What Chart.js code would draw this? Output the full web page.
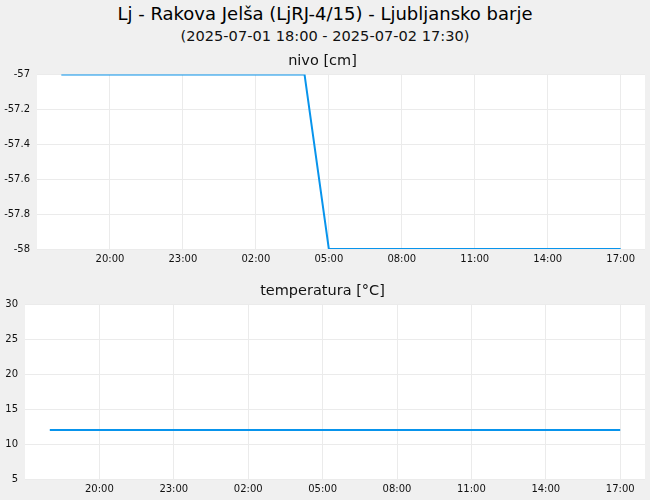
<!DOCTYPE html>
<html>
<head>
<meta charset="utf-8">
<script src="https://cdn.jsdelivr.net/npm/chart.js@4.4.0/dist/chart.umd.min.js"></script>
<style>
    body { margin: 0; background: #f0f0f0; }
    #wrap { position: relative; width: 650px; height: 500px; background: #f0f0f0; font-family: "DejaVu Sans", sans-serif; }
    #naslov { position: absolute; top: 3px; left: 0; width: 650px; text-align: center; font-size: 18px; color: #000; }
    #podnaslov { position: absolute; top: 27px; left: 0; width: 650px; text-align: center; font-size: 14.6px; color: #111; }
    .plosca { position: absolute; left: 0; width: 650px; height: 225px; }
</style>
</head>
<body>
<div id="wrap">
    <div id="naslov">Lj - Rakova Jelša (LjRJ-4/15) - Ljubljansko barje</div>
    <div id="podnaslov">(2025-07-01 18:00 - 2025-07-02 17:30)</div>
    <div class="plosca" style="top:45px"><canvas id="nivo"></canvas></div>
    <div class="plosca" style="top:275px"><canvas id="temperatura"></canvas></div>
</div>
<script>
// meritve, vsako uro
const casi = ["18:00", "19:00", "20:00", "21:00", "22:00", "23:00", "00:00", "01:00", "02:00", "03:00", "04:00", "05:00",
    "06:00", "07:00", "08:00", "09:00", "10:00", "11:00", "12:00", "13:00", "14:00", "15:00", "16:00", "17:00"];
const nivo = [-57, -57, -57, -57, -57, -57, -57, -57, -57, -57, -57, -58,
    -58, -58, -58, -58, -58, -58, -58, -58, -58, -58, -58, -58];
const temperatura = [12, 12, 12, 12, 12, 12, 12, 12, 12, 12, 12, 12,
    12, 12, 12, 12, 12, 12, 12, 12, 12, 12, 12, 12];
const oznakeCasa = ["20:00", "23:00", "02:00", "05:00", "08:00", "11:00", "14:00", "17:00"];

// ure od 2025-07-01 18:00
function ureOdZacetka(cas) {
    const [hh, mm] = cas.split(':').map(Number)
    return (hh - 18 + 24) % 24 + mm / 60
}
function casIzUr(u) {
    const h = (Math.round(u) + 18) % 24
    return String(h).padStart(2, '0') + ':00'
}

const belaPodlaga = {
    id: 'belaPodlaga',
    beforeDraw(chart) {
        const { ctx, chartArea } = chart
        ctx.save()
        ctx.fillStyle = '#ffffff'
        ctx.fillRect(chartArea.left, chartArea.top, chartArea.right - chartArea.left, chartArea.bottom - chartArea.top)
        ctx.restore()
    }
}

function narisi(id, naslov, vrednosti, yMin, yMax, yKorak, sirinaOsi, decimalke) {
    return new Chart(id, {
        type: 'line',
        data: {
            datasets: [{
                data: casi.map((c, i) => ({ x: ureOdZacetka(c), y: vrednosti[i] })),
                borderColor: '#0894ec',
                borderWidth: 2,
                pointRadius: 0,
                tension: 0,
                fill: false
            }]
        },
        options: {
            responsive: true,
            maintainAspectRatio: false,
            animation: false,
            layout: { padding: { left: 0, right: 5, bottom: 1, top: 0 } },
            plugins: {
                legend: { display: false },
                tooltip: { enabled: false },
                title: {
                    display: true,
                    text: naslov,
                    color: '#111',
                    font: { family: 'DejaVu Sans', size: 14.5, weight: 'normal' },
                    padding: { top: 8, bottom: 4 }
                }
            },
            scales: {
                x: {
                    type: 'linear',
                    min: -1,
                    max: 24,
                    afterBuildTicks: (os) => {
                        os.ticks = oznakeCasa.map(c => ({ value: ureOdZacetka(c) }))
                    },
                    ticks: {
                        callback: (v) => casIzUr(v),
                        color: '#111',
                        font: { family: 'DejaVu Sans', size: 10 },
                        padding: 4,
                        maxRotation: 0,
                        autoSkip: false
                    },
                    grid: { color: '#ebebeb', drawTicks: false },
                    border: { display: false }
                },
                y: {
                    min: yMin,
                    max: yMax,
                    ticks: {
                        stepSize: yKorak,
                        callback: (v) => String(Number(v.toFixed(decimalke))),
                        color: '#111',
                        font: { family: 'DejaVu Sans', size: 10 },
                        padding: 7
                    },
                    afterFit: (os) => { os.width = sirinaOsi },
                    grid: { color: '#ebebeb', drawTicks: false },
                    border: { display: false }
                }
            }
        },
        plugins: [belaPodlaga]
    })
}

narisi('nivo', 'nivo [cm]', nivo, -58, -57, 0.2, 37, 1)
narisi('temperatura', 'temperatura [°C]', temperatura, 5, 30, 5, 25, 0)
</script>
</body>
</html>
